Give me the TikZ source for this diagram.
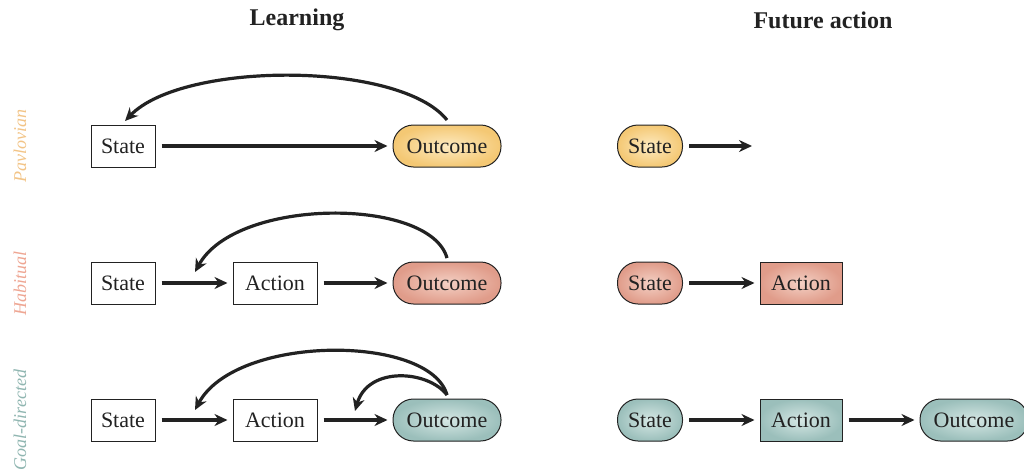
\documentclass[tikz,border=0pt]{standalone}
\usepackage{fontspec}
\setmainfont{Liberation Serif}
\usetikzlibrary{arrows.meta}
\definecolor{ink}{HTML}{222222}
\definecolor{yelO}{HTML}{F4C874}\definecolor{yelI}{HTML}{FDEAC0}
\definecolor{redO}{HTML}{E09C8A}\definecolor{redI}{HTML}{F4D0C4}
\definecolor{tealO}{HTML}{9BBFBB}\definecolor{tealI}{HTML}{D5E7E4}
\definecolor{yelT}{HTML}{F2C487}\definecolor{redT}{HTML}{EEA693}\definecolor{tealT}{HTML}{90B6B1}
\tikzset{
  txt/.style={font=\fontsize{22}{26}\selectfont, text=ink},
  box/.style={txt, draw=ink, line width=1pt, minimum height=42pt, inner xsep=4pt},
  pill/.style={txt, rounded corners=20.5pt, draw=ink, line width=1pt, minimum height=42pt, inner xsep=4pt},
  pav/.style={inner color=yelI, outer color=yelO},
  hab/.style={inner color=redI, outer color=redO},
  goal/.style={inner color=tealI, outer color=tealO},
  arr/.style={draw=ink, line width=3.2pt, -{Stealth[length=13pt,width=12pt]}, shorten <=6pt, shorten >=5pt},
  carr/.style={draw=ink, line width=3.2pt, -{Stealth[length=13pt,width=12pt]}},
  side/.style={rotate=90, font=\itshape\fontsize{18}{22}\selectfont},
  title/.style={font=\bfseries\fontsize{24}{28}\selectfont, text=ink}
}
\begin{document}
\begin{tikzpicture}[x=1pt,y=-1pt]
\useasboundingbox (0,0) rectangle (1024,474);
\node[title] (tL) at (297,20) {Learning};
\node[title] (tF) at (823,20) {Future action};
\node[side, text=yelT] (lp) at (20,146) {Pavlovian};
\node[side, text=redT] (lh) at (20,283) {Habitual};
\node[side, text=tealT] (lg) at (20,420) {Goal-directed};
% Row 1
\node[box, minimum width=64pt] (s1) at (123,146) {State};
\node[pill, pav, minimum width=108pt] (o1) at (447,146) {Outcome};
\draw[arr] (s1) -- (o1);
\coordinate (c1a) at (447,120);
\coordinate (c1b) at (125,121);
\draw[carr] (c1a) .. controls (400,61) and (183,61) .. (c1b);
\node[pill, pav, minimum width=65pt] (rs1) at (650,146) {State};
\coordinate (re1) at (752,146);
\draw[arr, shorten >=0pt] (rs1) -- (re1);
% Row 2
\node[box, minimum width=64pt] (s2) at (123,283) {State};
\node[box, minimum width=84pt] (a2) at (275,283) {Action};
\node[pill, hab, minimum width=108pt] (o2) at (447,283) {Outcome};
\draw[arr] (s2) -- (a2);
\draw[arr] (a2) -- (o2);
\coordinate (c2a) at (447,258);
\coordinate (c2b) at (195,272);
\draw[carr] (c2a) .. controls (430,197) and (236,197) .. (c2b);
\node[pill, hab, minimum width=65pt] (rs2) at (650,283) {State};
\node[box, hab, minimum width=82pt] (ra2) at (801,283) {Action};
\draw[arr] (rs2) -- (ra2);
% Row 3
\node[box, minimum width=64pt] (s3) at (123,420) {State};
\node[box, minimum width=84pt] (a3) at (275,420) {Action};
\node[pill, goal, minimum width=108pt] (o3) at (447,420) {Outcome};
\draw[arr] (s3) -- (a3);
\draw[arr] (a3) -- (o3);
\coordinate (c3a) at (447,395);
\coordinate (c3b) at (195,410);
\coordinate (c3c) at (355,411);
\draw[carr] (c3a) .. controls (430,334) and (236,334) .. (c3b);
\draw[carr] (c3a) .. controls (428,370) and (368,366) .. (c3c);
\node[pill, goal, minimum width=65pt] (rs3) at (650,420) {State};
\node[box, goal, minimum width=82pt] (ra3) at (801,420) {Action};
\node[pill, goal, minimum width=108pt] (ro3) at (974,420) {Outcome};
\draw[arr] (rs3) -- (ra3);
\draw[arr] (ra3) -- (ro3);
\end{tikzpicture}
\end{document}
